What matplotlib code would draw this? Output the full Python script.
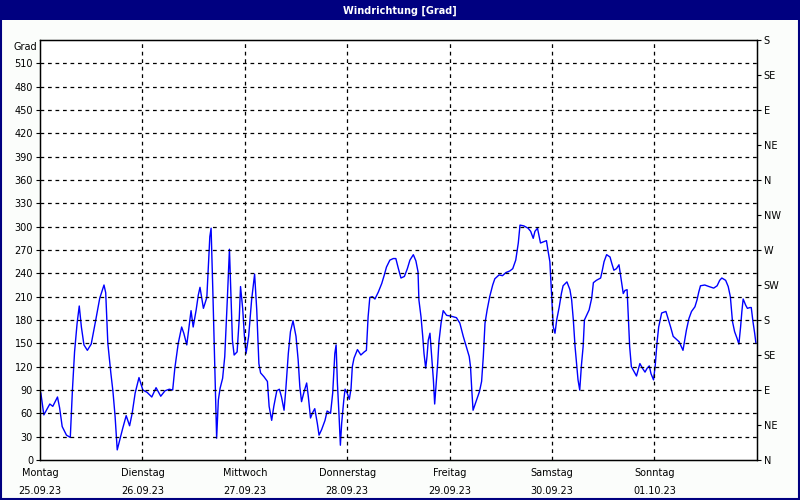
import matplotlib.pyplot as plt
from matplotlib.patches import Rectangle

# wind direction readings: hours since Monday 00:00, degrees
hours = [0.2, 0.9, 1.5, 2.3, 3.0, 4.1, 4.6, 5.2, 6.2, 7.1, 7.6, 8.1, 8.7, 9.2, 9.7,
         10.3, 11.1, 12.0, 13.0, 14.0, 15.0, 15.4, 15.9, 16.6, 17.1, 17.6, 18.1, 18.7,
         19.4, 20.2, 21.0, 21.6, 22.3, 23.2, 24.1, 25.1, 26.2, 27.2, 28.3, 29.3, 30.3,
         31.1, 31.6, 32.4, 33.2, 33.7, 34.4, 35.0, 35.4, 35.9, 36.6, 37.1, 37.5, 38.3,
         39.1, 39.4, 39.8, 40.1, 40.5, 41.0, 41.4, 41.8, 42.2, 42.8, 43.3, 43.9, 44.4,
         44.7, 45.1, 45.5, 46.2, 46.7, 47.0, 47.5, 47.9, 48.3, 48.9, 49.6, 50.3, 50.8,
         51.3, 51.7, 52.5, 53.3, 53.7, 54.3, 54.8, 55.5, 56.1, 56.6, 57.2, 57.6, 58.2,
         58.7, 59.3, 60.0, 60.5, 60.9, 61.3, 61.9, 62.5, 62.9, 63.4, 63.9, 64.4, 65.0,
         65.4, 66.0, 66.8, 67.3, 68.1, 68.6, 69.1, 69.4, 69.7, 70.1, 70.4, 70.7, 71.2,
         71.5, 72.0, 72.5, 72.9, 73.2, 73.6, 74.4, 75.2, 76.0, 76.5, 76.9, 77.3, 77.9,
         78.5, 79.3, 80.1, 80.7, 81.2, 82.0, 82.8, 83.4, 84.0, 84.6, 85.4, 86.1, 86.7,
         87.5, 88.1, 88.6, 88.8, 89.3, 89.7, 90.0, 90.4, 90.7, 91.0, 91.4, 91.8, 92.2,
         92.5, 92.9, 93.2, 93.5, 94.0, 94.5, 95.3, 96.3, 97.6, 98.4, 99.2, 100.0, 100.6,
         100.9, 101.2, 101.5, 102.2, 103.0, 103.5, 103.9, 104.3, 104.8, 105.4, 106.1,
         106.6, 107.6, 108.4, 109.2, 110.1, 110.8, 111.5, 112.1, 112.5, 113.4, 114.4,
         115.0, 115.6, 116.0, 116.6, 117.3, 118.2, 118.7, 119.1, 119.5, 119.9, 120.3,
         120.7, 121.1, 121.7, 122.2, 122.6, 123.5, 124.2, 124.6, 125.0, 125.4, 125.8,
         126.1, 126.5, 126.9, 127.3, 127.6, 128.1, 128.7, 129.3, 129.7, 130.4, 131.4,
         131.8, 132.2, 132.8, 133.6, 134.0, 134.5, 135.1, 135.7, 136.1, 136.7, 137.1,
         137.6, 137.9, 138.2, 138.6, 139.2, 139.8, 140.2, 140.6, 141.2, 141.8, 142.3,
         142.8, 143.2, 143.8, 144.2, 144.6, 145.0, 145.7, 146.7, 147.2, 147.8, 148.4,
         149.2, 149.8, 150.3, 150.7, 151.1, 151.5, 152.1, 152.7, 153.5, 154.0, 154.4,
         154.8, 155.8, 156.8, 157.9, 158.7, 159.3, 159.8, 160.7, 161.3, 161.8, 162.3,
         162.8, 163.4, 163.8, 164.2, 164.5, 164.8, 165.4, 165.8, 166.4, 166.7, 167.1,
         167.5, 167.8]
degrees = [86, 58, 64, 72, 69, 81, 67, 43, 32, 29, 90, 139, 176, 198, 171,
           148, 141, 149, 178, 208, 225, 215, 150, 112, 88, 56, 13, 26,
           41, 57, 44, 60, 86, 106, 90, 87, 81, 93, 82, 89, 91,
           90, 118, 150, 171, 163, 148, 174, 192, 171, 193, 212, 222, 195,
           209, 242, 287, 298, 219, 111, 28, 77, 92, 105, 133, 206, 271,
           219, 154, 135, 139, 182, 223, 195, 160, 137, 159, 206, 239, 193,
           124, 112, 107, 101, 69, 51, 69, 89, 91, 81, 64, 90, 137,
           165, 179, 159, 129, 94, 75, 88, 99, 81, 54, 61, 66, 47,
           32, 39, 51, 63, 60, 86, 137, 148, 99, 56, 19, 47, 77,
           91, 86, 78, 92, 120, 131, 142, 135, 139, 141, 184, 209, 210,
           207, 216, 227, 238, 248, 257, 259, 259, 246, 234, 236, 246, 257,
           264, 256, 242, 206, 184, 159, 137, 118, 133, 154, 163, 133, 103,
           72, 101, 124, 152, 176, 192, 186, 185, 183, 176, 159, 144, 133,
           120, 90, 64, 75, 88, 101, 133, 176, 193, 210, 225,
           233, 238, 237, 241, 243, 246, 257, 279, 302, 301, 298,
           294, 285, 294, 298, 279, 281, 282, 268, 255, 214, 171,
           163, 180, 197, 214, 224, 229, 219, 206, 180, 146, 122,
           103, 90, 122, 146, 180, 186, 193, 208, 228, 231, 234,
           244, 255, 264, 261, 253, 244, 246, 251, 236, 214, 218,
           219, 182, 146, 120, 114, 108, 116, 124, 118, 113, 118,
           121, 111, 103, 122, 150, 171, 189, 191, 182, 171, 159,
           155, 152, 146, 141, 154, 167, 182, 191, 197, 206, 216,
           224, 225, 223, 221, 224, 231, 234, 231, 223, 210, 178,
           165, 156, 149, 171, 191, 207, 199, 195, 196, 196, 178,
           163, 150]

day_names = ["Montag", "Dienstag", "Mittwoch", "Donnerstag", "Freitag", "Samstag", "Sonntag"]
day_dates = ["25.09.23", "26.09.23", "27.09.23", "28.09.23", "29.09.23", "30.09.23", "01.10.23"]
compass = ["N", "NE", "E", "SE", "S", "SW", "W", "NW", "N", "NE", "E", "SE", "S"]

navy = "#000080"
plt.rcParams['font.family'] = ['DejaVu Sans']

fig = plt.figure(figsize=(8, 5), dpi=100, facecolor="#fbfdfb")

# title bar and frame
fig.patches.append(Rectangle((0, 0.96), 1, 0.04, transform=fig.transFigure,
                             facecolor=navy, edgecolor="none"))
fig.patches.append(Rectangle((0.001, 0.002), 0.998, 0.997, transform=fig.transFigure,
                             facecolor="none", edgecolor=navy, linewidth=1.5))
fig.text(0.5, 0.979, "Windrichtung [Grad]", color="white", fontsize=7,
         fontweight="bold", ha="center", va="center")

ax = fig.add_axes([0.05, 0.08, 0.896, 0.84])
ax.set_facecolor("white")
ax.plot([h / 24 for h in hours], degrees, color="#0000ff", linewidth=1)

ax.set_xlim(0, 7)
ax.set_ylim(0, 540)
ax.set_yticks(range(0, 511, 30))
ax.tick_params(axis="y", labelsize=7, length=3, pad=2)
ax.set_xticks(range(7))
ax.set_xticklabels([n + "\n" + d for n, d in zip(day_names, day_dates)],
                   fontsize=7, linespacing=1.9)
ax.tick_params(axis="x", length=0, pad=6)

for y in range(30, 540, 30):
    ax.axhline(y, color="black", linewidth=0.9, linestyle=(0, (3, 3)))
for d in range(1, 7):
    ax.axvline(d, color="black", linewidth=0.9, linestyle=(0, (3, 3)))
for s in ax.spines.values():
    s.set_linewidth(1.0)

ax.text(-0.004, 0.995, "Grad", transform=ax.transAxes, fontsize=7,
        ha="right", va="top")

ax2 = ax.twinx()
ax2.set_ylim(0, 540)
ax2.set_yticks(range(0, 541, 45))
ax2.set_yticklabels(compass)
ax2.tick_params(axis="y", labelsize=7, length=3, pad=2)

fig.savefig("out.png", dpi=100, facecolor=fig.get_facecolor())
